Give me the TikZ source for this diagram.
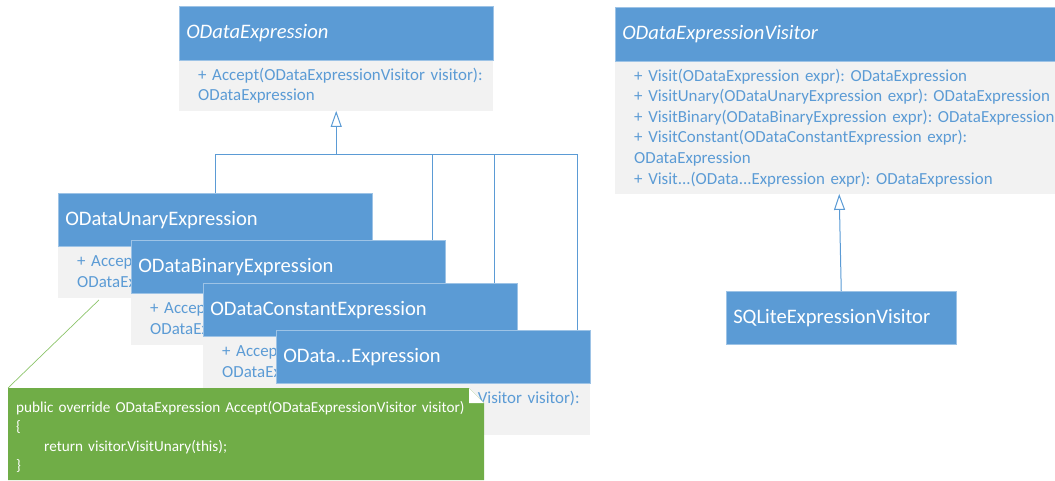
\documentclass[tikz,border=0pt]{standalone}
\usepackage{fontspec}
\setmainfont{Carlito}
\usetikzlibrary{arrows.meta}
\definecolor{hblue}{HTML}{5B9BD5}
\definecolor{hedge}{HTML}{9DC3E6}
\definecolor{bgray}{HTML}{F2F2F2}
\definecolor{tblue}{HTML}{5B9BD5}
\definecolor{ngreen}{HTML}{70AD47}
\definecolor{nline}{HTML}{8CC46A}
\frenchspacing

\begin{document}
\begin{tikzpicture}[x=1pt,y=-1pt,
  hdr/.style={rectangle, anchor=north west, fill=hblue, draw=hedge, line width=0.5pt,
    minimum height=53pt, text width=#1, inner xsep=7pt, inner ysep=0pt, align=left,
    text=white, font=\fontsize{20.6}{24}\selectfont},
  hdr/.default=300pt,
  bdy/.style={rectangle, anchor=north west, fill=bgray, minimum height=51pt,
    text width=#1, inner xsep=19pt, inner ysep=0pt, align=left,
    text=tblue, font=\fontsize{16.9}{20.6}\selectfont},
  bdy/.default=276pt,
  notetxt/.style={rectangle, anchor=north west, minimum height=98pt, text width=460pt,
    inner xsep=8pt, inner ysep=0pt, align=left, text=white,
    font=\fontsize{15.2}{19.5}\selectfont},
  gen/.style={draw=hblue, line width=1pt, -{Triangle[open,length=16pt,width=11pt]}},
  wire/.style={draw=hblue, line width=1pt},
  notewire/.style={draw=nline, line width=0.7pt},
]
\useasboundingbox (0,0) rectangle (1055,480);
\clip (0,0) rectangle (1055,480);

% abstract base class
\node[hdr, minimum height=54pt] (eh) at (179,6) {\textit{ODataExpression}};
\node[bdy, minimum height=50pt] (eb) at (eh.south west)
  {\mbox{+ Accept(ODataExpressionVisitor visitor):}\\ODataExpression};

% visitor interface
\node[hdr=436pt, minimum height=54pt] (vh) at (615,7) {\textit{ODataExpressionVisitor}};
\node[bdy=410pt, minimum height=132pt] (vb) at (vh.south west)
  {\mbox{+ Visit(ODataExpression expr): ODataExpression}\\
   \mbox{+ VisitUnary(ODataUnaryExpression expr): ODataExpression}\\
   \mbox{+ VisitBinary(ODataBinaryExpression expr): ODataExpression}\\
   \mbox{+ VisitConstant(ODataConstantExpression expr):}\\
   ODataExpression\\
   \mbox{+ Visit...(OData...Expression expr): ODataExpression}};

% concrete visitor
\node[hdr=216pt] (sq) at (726,291) {SQLiteExpressionVisitor};

% stacked expression subclasses
\node[hdr] (uh) at (58,193) {ODataUnaryExpression};
\node[bdy] (ub) at (uh.south west)
  {\mbox{+ Accept(ODataExpressionVisitor visitor):}\\ODataExpression};
\node[hdr] (bh) at (131,240) {ODataBinaryExpression};
\node[bdy] (bb) at (bh.south west)
  {\mbox{+ Accept(ODataExpressionVisitor visitor):}\\ODataExpression};
\node[hdr] (ch) at (203,283) {ODataConstantExpression};
\node[bdy] (cb) at (ch.south west)
  {\mbox{+ Accept(ODataExpressionVisitor visitor):}\\ODataExpression};
\node[hdr] (dh) at (276,330) {OData...Expression};
\node[bdy] (db) at (dh.south west)
  {\mbox{+ Accept(ODataExpressionVisitor visitor):}\\ODataExpression};

% inheritance tree
\coordinate (bus) at ([yshift=-44pt]eb.south);
\draw[gen] (bus) -- (eb.south);
\draw[wire] (uh.north) |- (bus) -| ([xshift=-13pt]dh.north east);
\draw[wire] ([xshift=-13pt]bh.north east) -- ([xshift=-13pt]bh.north east |- bus);
\draw[wire] ([xshift=-23pt]ch.north east) -- ([xshift=-23pt]ch.north east |- bus);
\draw[gen] (sq.north) -- (vb.south);

% code note with folded corner
\fill[ngreen] (8,388) -- (469,388) -- (484,403) -- (484,480) -- (8,480) -- cycle;
\fill[white] (469,388) -- (469,403) -- (484,403) -- cycle;
\node[notetxt] (note) at (8,388)
  {\mbox{public override ODataExpression Accept(ODataExpressionVisitor visitor)}\\
   \{\\
   \hspace*{28pt}return visitor.VisitUnary(this);\\
   \}};
\draw[notewire] (note.north west) -- ([xshift=41pt,yshift=-2pt]ub.south west);
\end{tikzpicture}
\end{document}
